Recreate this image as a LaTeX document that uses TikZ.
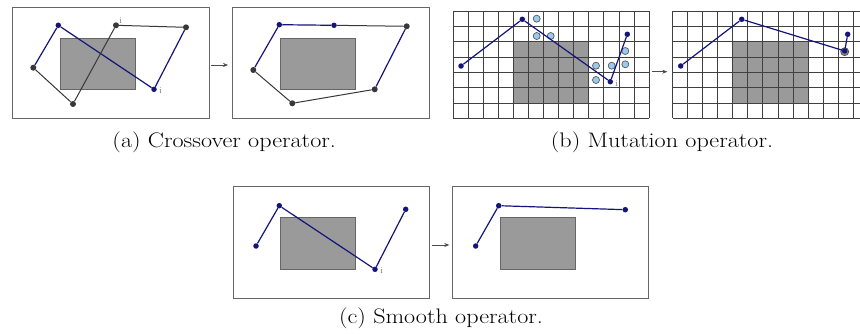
\documentclass[tikz,border=0pt]{standalone}
\usetikzlibrary{arrows.meta}
\definecolor{navy}{HTML}{14147A}
\definecolor{dotgray}{HTML}{383838}
\definecolor{obst}{HTML}{9A9A9A}
\definecolor{lblue}{HTML}{9CCAEE}
\newcommand{\capwide}[1]{\scalebox{1.15}[1]{#1}}
\begin{document}
\begin{tikzpicture}[x=1pt,y=-1pt,
  frame/.style={draw=black!60,line width=0.9pt,fill=white},
  obstacle/.style={draw=black!60,fill=obst,line width=0.7pt},
  bdot/.style={circle,fill=navy,inner sep=0pt,minimum size=5.5pt},
  gdot/.style={circle,fill=dotgray,inner sep=0pt,minimum size=6pt},
  cand/.style={circle,draw=black!65,fill=lblue,line width=0.7pt,inner sep=0pt,minimum size=7pt},
  bline/.style={draw=navy,line width=1.2pt},
  gline/.style={draw=dotgray,line width=1pt},
  opar/.style={draw=black!70,line width=0.6pt,-{Stealth[length=5pt,width=4pt]}},
  ilab/.style={text=black!55,font=\fontsize{9}{10}\selectfont,inner sep=0pt},
  captext/.style={font=\fontsize{21}{24}\selectfont,anchor=base,inner sep=0pt},
  gridl/.style={draw=black!75,line width=0.7pt}]
\useasboundingbox (0,0) rectangle (860,334);

% ---------- (a) crossover ----------
\draw[frame] (12.7,7) rectangle (209,118);
\draw[obstacle] (60,38) rectangle (135,89);
\node[bdot] (a1) at (58.3,25.3) {};
\node[gdot] (a2) at (116,25.3) {};
\node[gdot] (a3) at (186,27.3) {};
\node[bdot] (a4) at (154,89.3) {};
\node[gdot] (a5) at (33.3,67.7) {};
\node[gdot] (a6) at (73,104) {};
\draw[bline] (a5) -- (a1);
\draw[bline] (a1) -- (a4);
\draw[bline] (a4) -- (a3);
\draw[gline] (a3) -- (a2);
\draw[gline] (a2) -- (a6);
\draw[gline] (a6) -- (a5);
\node[ilab] (ia1) at (120.7,20.5) {i};
\node[ilab] (ia2) at (160.7,90.5) {i};

\draw[opar] (211,65) -- (228,65);

\draw[frame] (232.3,7) rectangle (429,118);
\draw[obstacle] (280.7,38) rectangle (355.3,89);
\node[bdot] (b1) at (279.3,24.7) {};
\node[bdot] (b2) at (334,25.3) {};
\node[gdot] (b3) at (406.7,26.3) {};
\node[gdot] (b4) at (374.7,89.3) {};
\node[gdot] (b5) at (292.3,103.3) {};
\node[gdot] (b6) at (253.3,70) {};
\draw[bline] (b6) -- (b1);
\draw[bline] (b1) -- (b2);
\draw[gline] (b2) -- (b3);
\draw[bline] (b3) -- (b4);
\draw[gline] (b4) -- (b5);
\draw[gline] (b5) -- (b6);

\node[captext] (capa) at (224.2,148) {\capwide{(a) Crossover operator.}};

% ---------- (b) mutation ----------
\fill[white] (453.3,11) rectangle (649,118.3);
\fill[obst] (513.5,41.7) rectangle (588.8,103);
\foreach \i in {0,...,13} {\draw[gridl] (453.3+15.05*\i,11) -- (453.3+15.05*\i,118.3);}
\foreach \j in {0,...,7} {\draw[gridl] (453.3,11+15.33*\j) -- (649,11+15.33*\j);}
\node[cand] (m1) at (536.7,18.7) {};
\node[cand] (m2) at (536.7,36) {};
\node[cand] (m3) at (550.7,36) {};
\node[cand] (m4) at (596,65.7) {};
\node[cand] (m5) at (611.7,65.7) {};
\node[cand] (m6) at (625.3,51) {};
\node[cand] (m7) at (625.3,64.3) {};
\node[cand] (m8) at (596,80) {};
\node[bdot] (p1) at (461,66) {};
\node[bdot] (p2) at (522.3,19.3) {};
\node[bdot] (p3) at (610.3,81.7) {};
\node[bdot] (p4) at (627.3,34.3) {};
\draw[bline] (p1) -- (p2);
\draw[bline] (p2) -- (p3);
\draw[bline] (p3) -- (p4);
\node[ilab] (ib) at (616.7,84) {i};

\draw[opar] (651.7,71.7) -- (667.3,71.7);

\begin{scope}
\clip (600,0) rectangle (860,334);
\fill[white] (672.5,11) rectangle (868,118.3);
\fill[obst] (732.7,41.7) rectangle (807.9,103);
\foreach \i in {0,...,13} {\draw[gridl] (672.5+15.05*\i,11) -- (672.5+15.05*\i,118.3);}
\foreach \j in {0,...,7} {\draw[gridl] (672.5,11+15.33*\j) -- (868,11+15.33*\j);}
\end{scope}
\node[circle,draw=black!70,fill=black!45,line width=0.7pt,inner sep=0pt,minimum size=8pt] (q3c) at (844.7,51.7) {};
\node[bdot] (q1) at (680.7,66) {};
\node[bdot] (q2) at (741.7,19.3) {};
\node[bdot] (q3) at (844.7,51) {};
\node[bdot] (q4) at (847.7,34.3) {};
\draw[bline] (q1) -- (q2);
\draw[bline] (q2) -- (q3);
\draw[bline] (q3) -- (q4);

\node[captext] (capb) at (662,148) {\capwide{(b) Mutation operator.}};

% ---------- (c) smooth ----------
\draw[frame] (233.3,186.7) rectangle (429.3,298.3);
\draw[obstacle] (280.7,217.7) rectangle (355.3,269.3);
\node[bdot] (c1) at (256,246) {};
\node[bdot] (c2) at (279.3,205.7) {};
\node[bdot] (c3) at (375,269.3) {};
\node[bdot] (c4) at (405.7,209.3) {};
\draw[bline] (c1) -- (c2);
\draw[bline] (c2) -- (c3);
\draw[bline] (c3) -- (c4);
\node[ilab] (ic) at (381.7,270.5) {i};

\draw[opar] (431.7,245) -- (449.3,245);

\draw[frame] (452.3,186.7) rectangle (648.3,298.3);
\draw[obstacle] (500.7,217.7) rectangle (575.3,269.3);
\node[bdot] (d1) at (475.7,246) {};
\node[bdot] (d2) at (498.7,205.7) {};
\node[bdot] (d3) at (625.3,209.7) {};
\draw[bline] (d1) -- (d2);
\draw[bline] (d2) -- (d3);

\node[captext] (capc) at (441,323.5) {\capwide{(c) Smooth operator.}};
\end{tikzpicture}
\end{document}
